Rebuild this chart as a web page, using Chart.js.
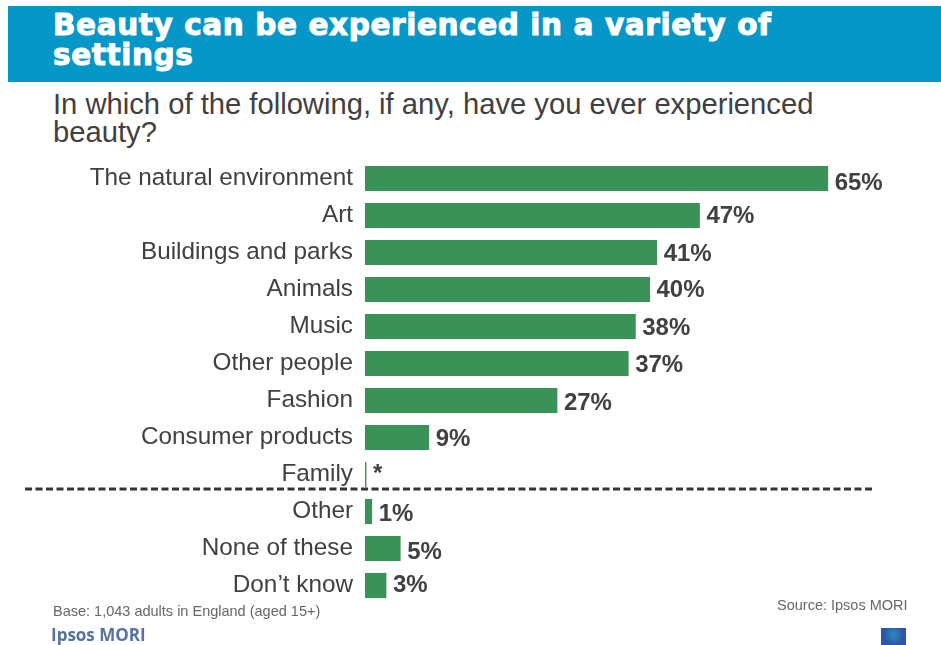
<!DOCTYPE html>
<html>
<head>
<meta charset="utf-8">
<title>Beauty can be experienced in a variety of settings</title>
<script src="https://cdn.jsdelivr.net/npm/chart.js@4"></script>
<style>
  html, body { margin: 0; padding: 0; background: #fff; }
  body { width: 941px; height: 645px; position: relative; overflow: hidden; }
  #chart { position: absolute; left: 0; top: 0; }
  .txt { position: absolute; white-space: pre; }
  #banner { position: absolute; left: 8px; top: 6px; width: 933px; height: 76px; background: #0697c9; }
  #title { left: 53px; top: 10px; font: bold 29.5px/30px "DejaVu Sans", sans-serif; letter-spacing: 0.6px; -webkit-text-stroke: 1px #fff; color: #fff; }
  #question { left: 53px; top: 90px; font: 29.2px/28px "Liberation Sans", sans-serif; color: #404040; }
  #base { left: 53px; top: 603px; font: 14.5px/16px "Liberation Sans", sans-serif; color: #666; }
  #source { left: 777px; top: 597px; font: 14.5px/16px "Liberation Sans", sans-serif; color: #666; }
  #brand { left: 51px; top: 625px; font: bold 17px/20px "Open Sans", sans-serif; color: #54719f; }
  #logo { position: absolute; left: 881px; top: 628px; width: 25px; height: 17px;
    background: radial-gradient(circle at 50% 40%, #2a8fb8 0, #2f55a8 60%); }
</style>
</head>
<body>
<div id="banner"></div>
<div class="txt" id="title">Beauty can be experienced in a variety of
settings</div>
<div class="txt" id="question">In which of the following, if any, have you ever experienced
beauty?</div>
<canvas id="chart" width="941" height="645"></canvas>
<div class="txt" id="base">Base: 1,043 adults in England (aged 15+)</div>
<div class="txt" id="source">Source: Ipsos MORI</div>
<div class="txt" id="brand">Ipsos MORI</div>
<div id="logo"></div>

<script>
const categories = ['The natural environment', 'Art', 'Buildings and parks', 'Animals', 'Music', 'Other people',
  'Fashion', 'Consumer products', 'Family', 'Other', 'None of these', "Don\u2019t know"];
const percentages = [65, 47, 41, 40, 38, 37, 27, 9, 0.2, 1, 5, 3];
const valueLabels = ['65%', '47%', '41%', '40%', '38%', '37%', '27%', '9%', '*', '1%', '5%', '3%'];

const textColor = '#404040';

// the value labels sit a little off the bar centre in places
const valueNudge = [5, 1, 2, 1, 2, 2, 3, 2, 0, 3, 4, 0];

const barValueLabels = {
  id: 'barValueLabels',
  afterDatasetsDraw(chart) {
    const ctx = chart.ctx;
    const bars = chart.getDatasetMeta(0).data;
    ctx.save();
    ctx.fillStyle = textColor;
    ctx.font = 'bold 24px "Liberation Sans", sans-serif';
    ctx.textBaseline = 'middle';
    bars.forEach((bar, i) => {
      ctx.fillText(valueLabels[i], bar.x + 6.5, bar.y + valueNudge[i]);
    });
    ctx.restore();
  }
};

// dashed rule between the real answers and the "other" group
const groupDivider = {
  id: 'groupDivider',
  afterDatasetsDraw(chart) {
    const y = chart.scales.y;
    const lineY = (y.getPixelForValue(8) + y.getPixelForValue(9)) / 2 - 4;
    const ctx = chart.ctx;
    ctx.save();
    ctx.strokeStyle = '#333';
    ctx.lineWidth = 3;
    ctx.setLineDash([7, 3.5]);
    ctx.beginPath();
    ctx.moveTo(25, lineY);
    ctx.lineTo(873, lineY);
    ctx.stroke();
    ctx.restore();
  }
};

new Chart(document.getElementById('chart').getContext('2d'), {
  type: 'bar',
  data: {
    labels: categories,
    datasets: [{
      data: percentages,
      backgroundColor: '#3a9356',
      categoryPercentage: 1,
      barPercentage: 0.68
    }]
  },
  options: {
    indexAxis: 'y',
    responsive: false,
    animation: false,
    layout: { padding: { top: 160, bottom: 41, right: 6, left: 0 } },
    plugins: { legend: { display: false }, tooltip: { enabled: false } },
    scales: {
      x: { display: false, min: 0, max: 80 },
      y: {
        afterFit(scale) { scale.width = 365; },
        grid: { display: false },
        border: { display: false },
        ticks: {
          padding: 4,
          color: textColor,
          font: { family: '"Liberation Sans", sans-serif', size: 24.3 },
          autoSkip: false
        }
      }
    }
  },
  plugins: [barValueLabels, groupDivider]
});
</script>
</body>
</html>
